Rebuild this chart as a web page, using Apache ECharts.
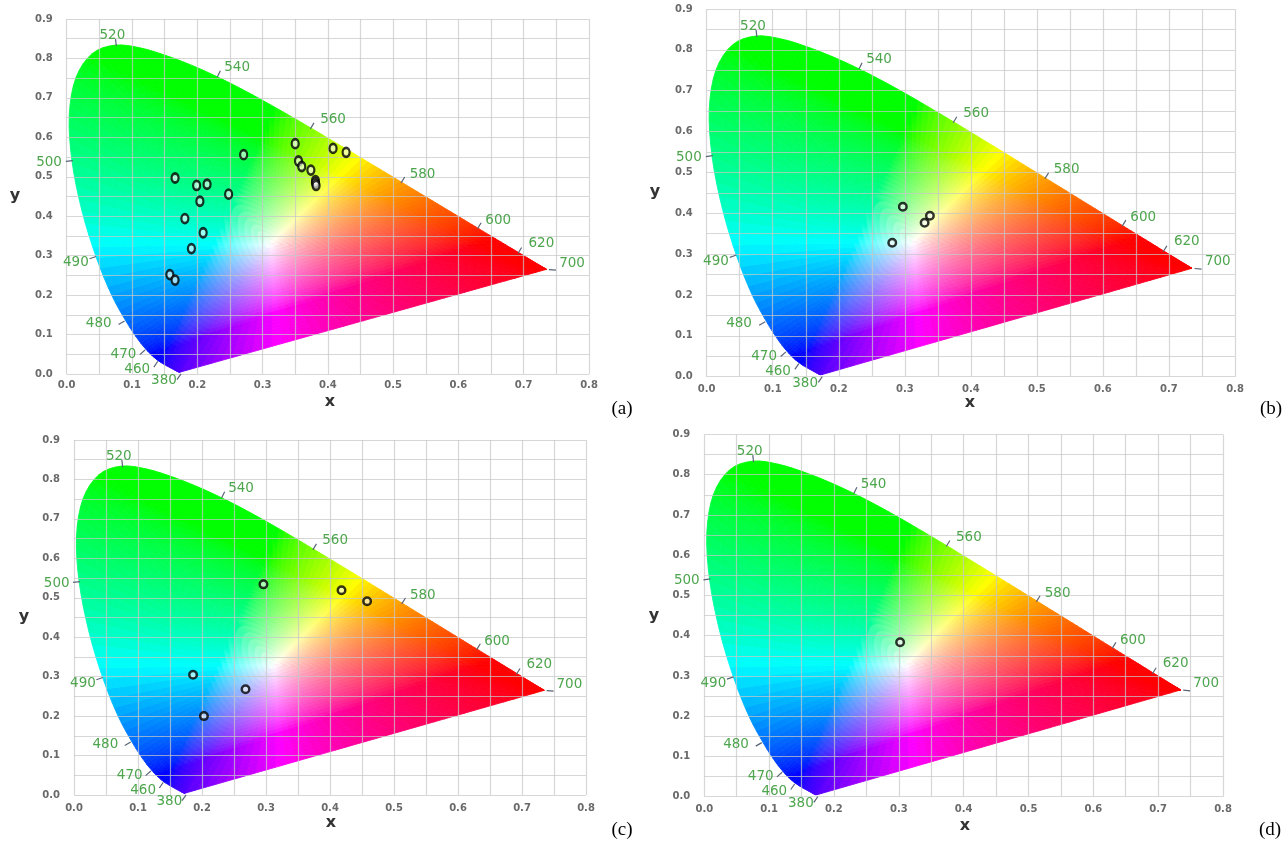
<!DOCTYPE html>
<html><head><meta charset="utf-8">
<script src="https://cdn.jsdelivr.net/npm/echarts/dist/echarts.min.js"></script>
<style>html,body{margin:0;padding:0;background:#fff}#c{width:1288px;height:843px}</style>
</head><body><div id="c"></div>
<script>
// CIE 1931 2° spectral locus (380..700 nm)
const locusWl = [380,385,390,395,400,405,410,415,420,425,430,435,440,445,450,455,460,465,470,475,480,485,490,495,500,505,510,515,520,525,530,535,540,545,550,555,560,565,570,575,580,585,590,595,600,605,610,615,620,625,630,635,640,645,650,655,660,665,670,680,690,700];
const locusX = [0.1741,0.1740,0.1738,0.1736,0.1733,0.1730,0.1726,0.1721,0.1714,0.1703,0.1689,0.1669,0.1644,0.1611,0.1566,0.1510,0.1440,0.1355,0.1241,0.1096,0.0913,0.0687,0.0454,0.0235,0.0082,0.0039,0.0139,0.0389,0.0743,0.1142,0.1547,0.1929,0.2296,0.2658,0.3016,0.3373,0.3731,0.4087,0.4441,0.4788,0.5125,0.5448,0.5752,0.6029,0.6270,0.6482,0.6658,0.6801,0.6915,0.7006,0.7079,0.7140,0.7190,0.7230,0.7260,0.7283,0.7300,0.7311,0.7320,0.7334,0.7344,0.7347];
const locusY = [0.0050,0.0050,0.0049,0.0049,0.0048,0.0048,0.0048,0.0048,0.0051,0.0058,0.0069,0.0086,0.0109,0.0138,0.0177,0.0227,0.0297,0.0399,0.0578,0.0868,0.1327,0.2007,0.2950,0.4127,0.5384,0.6548,0.7502,0.8120,0.8338,0.8262,0.8059,0.7816,0.7543,0.7243,0.6923,0.6589,0.6245,0.5896,0.5547,0.5202,0.4866,0.4544,0.4242,0.3965,0.3725,0.3514,0.3340,0.3197,0.3083,0.2993,0.2920,0.2859,0.2809,0.2770,0.2740,0.2717,0.2700,0.2689,0.2680,0.2666,0.2656,0.2653];
const whitePoint = [0.3127, 0.3290];

// Wavelength annotations
const wlLabels = ['520','540','560','580','600','620','700','500','490','480','470','460','380'];
const wlLabelX = [0.070,0.261,0.408,0.545,0.661,0.727,0.774,-0.027,0.014,0.049,0.087,0.108,0.149];
const wlLabelY = [0.858,0.777,0.644,0.506,0.389,0.331,0.281,0.536,0.282,0.129,0.050,0.012,-0.017];
const wlTickX = [0.0754,0.233,0.376,0.515,0.632,0.694,0.744,0.004,0.040,0.084,0.116,0.1365,0.172];
const wlTickY = [0.840,0.761,0.629,0.492,0.376,0.313,0.264,0.540,0.295,0.130,0.055,0.025,-0.007];

// Measured chromaticity points
const panelA_x = [0.350,0.271,0.355,0.360,0.374,0.381,0.381,0.382,0.408,0.428,0.166,0.199,0.215,0.248,0.204,0.181,0.209,0.191,0.158,0.166];
const panelA_y = [0.584,0.556,0.540,0.526,0.517,0.490,0.484,0.478,0.572,0.562,0.497,0.478,0.481,0.456,0.438,0.394,0.358,0.318,0.252,0.238];
const panelB_x = [0.297,0.338,0.330,0.281];
const panelB_y = [0.416,0.394,0.377,0.328];
const panelC_x = [0.296,0.418,0.458,0.186,0.203,0.268];
const panelC_y = [0.534,0.519,0.491,0.305,0.200,0.268];
const panelD_x = [0.302];
const panelD_y = [0.384];

const xTicks = [0,0.8,0.1];
const yTicks = [0,0.9,0.1];
const panelNames = ['(a)','(b)','(c)','(d)'];

// ---- layout (pixels) ----
const grids = [
  {left:66.7, top:19, width:522.3, height:355},
  {left:706.7, top:9, width:528.3, height:367.7},
  {left:74, top:440, width:512, height:355},
  {left:704.3, top:434.5, width:518.7, height:362.2}
];
const xNamePos = [[330,402],[970,403],[331,823],[965,826]];
const yNamePos = [[15,196],[655,192],[24,617],[654,616]];
const panelLabelPos = [[622,409],[1271,409],[622,830],[1270,830]];

function lin2srgb(c){ return c <= 0.0031308 ? 12.92*c : 1.055*Math.pow(c,1/2.4)-0.055; }
function xyToRgb(x,y){
  y = Math.max(y, 1e-4);
  const X = x/y, Y = 1, Z = (1-x-y)/y;
  let r = 3.2406*X - 1.5372*Y - 0.4986*Z;
  let g = -0.9689*X + 1.8758*Y + 0.0415*Z;
  let b = 0.0557*X - 0.2040*Y + 1.0570*Z;
  r = Math.max(0,r); g = Math.max(0,g); b = Math.max(0,b);
  const m = Math.max(r,g,b) || 1;
  const s = 1.35;
  r = lin2srgb(Math.pow(r/m,s)); g = lin2srgb(Math.pow(g/m,s)); b = lin2srgb(Math.pow(b/m,s));
  return 'rgb(' + Math.round(r*255) + ',' + Math.round(g*255) + ',' + Math.round(b*255) + ')';
}

// boundary: smooth (Catmull-Rom) rendering of the locus + straight purple line
const boundary = [];
const SUB = 4;
const nL = locusX.length;
function lp(i){ i = Math.max(0, Math.min(nL-1, i)); return [locusX[i], locusY[i]]; }
for (let i = 0; i < nL - 1; i++) {
  const p0 = lp(i-1), p1 = lp(i), p2 = lp(i+1), p3 = lp(i+2);
  for (let s = 0; s < SUB; s++) {
    const t = s / SUB, t2 = t*t, t3 = t2*t;
    const f = (a,b,c,d) => 0.5*((2*b) + (-a+c)*t + (2*a-5*b+4*c-d)*t2 + (-a+3*b-3*c+d)*t3);
    boundary.push([f(p0[0],p1[0],p2[0],p3[0]), f(p0[1],p1[1],p2[1],p3[1])]);
  }
}
const last = nL - 1;
const PURPLE = 36;
for (let s = 0; s < PURPLE; s++) {
  const t = s / PURPLE;
  boundary.push([locusX[last] + (locusX[0]-locusX[last])*t, locusY[last] + (locusY[0]-locusY[last])*t]);
}
const fillSegments = [];
for (let i = 0; i < boundary.length; i++) {
  const a = boundary[i], b = boundary[(i+1) % boundary.length];
  fillSegments.push([a[0], a[1], b[0], b[1]]);
}
const RADIAL = 30;

function renderFill(params, api) {
  const x1 = api.value(0), y1 = api.value(1), x2 = api.value(2), y2 = api.value(3);
  const W = whitePoint;
  const children = [];
  for (let k = 0; k < RADIAL; k++) {
    const t0 = k / RADIAL, t1 = (k+1) / RADIAL;
    const pA = [W[0]+(x1-W[0])*t0, W[1]+(y1-W[1])*t0];
    const pB = [W[0]+(x2-W[0])*t0, W[1]+(y2-W[1])*t0];
    const pC = [W[0]+(x2-W[0])*t1, W[1]+(y2-W[1])*t1];
    const pD = [W[0]+(x1-W[0])*t1, W[1]+(y1-W[1])*t1];
    const tm = (t0+t1)/2, mx = (x1+x2)/2, my = (y1+y2)/2;
    const col = xyToRgb(W[0]+(mx-W[0])*tm, W[1]+(my-W[1])*tm);
    children.push({
      type:'polygon',
      shape:{points:[api.coord(pA), api.coord(pB), api.coord(pC), api.coord(pD)]},
      style:{fill:col, stroke:col, lineWidth:0.9},
      silent:true
    });
  }
  return {type:'group', children};
}

function locusIndex(wl){ return locusWl.indexOf(wl); }

function renderLabels(params, api) {
  const i = params.dataIndex;
  const lpix = api.coord([api.value(0), api.value(1)]);
  const tp = api.coord([api.value(2), api.value(3)]);
  const wl = +wlLabels[i];
  const idx = locusIndex(wl);
  const wp = api.coord(whitePoint);
  const P = api.coord([locusX[idx], locusY[idx]]);
  let nx, ny;
  if (idx > 0 && idx < locusX.length - 1) {
    const a = api.coord([locusX[idx-1], locusY[idx-1]]);
    const b = api.coord([locusX[idx+1], locusY[idx+1]]);
    const tx = b[0]-a[0], ty = b[1]-a[1];
    nx = -ty; ny = tx;
    if ((P[0]-wp[0])*nx + (P[1]-wp[1])*ny < 0) { nx = -nx; ny = -ny; }
  } else {
    nx = P[0]-wp[0]; ny = P[1]-wp[1];
  }
  const len = Math.sqrt(nx*nx+ny*ny) || 1;
  nx /= len; ny /= len;
  const h = 3.5;
  return {type:'group', children:[
    {type:'line', shape:{x1:tp[0]-nx*h, y1:tp[1]-ny*h, x2:tp[0]+nx*h, y2:tp[1]+ny*h},
      style:{stroke:'#5a6478', lineWidth:1.2}},
    {type:'text', x:lpix[0], y:lpix[1], style:{text:wlLabels[i], fill:'#4da54d',
      font:'13.5px "DejaVu Sans", sans-serif', textAlign:'center', textVerticalAlign:'middle'}}
  ]};
}

const gridColor = 'rgba(200,200,200,0.72)';
const option = {animation:false, grid:[], xAxis:[], yAxis:[], series:[], graphic:[]};
const pts = [[panelA_x,panelA_y],[panelB_x,panelB_y],[panelC_x,panelC_y],[panelD_x,panelD_y]];
const labelData = wlLabels.map((t,i)=>[wlLabelX[i], wlLabelY[i], wlTickX[i], wlTickY[i]]);

for (let p = 0; p < 4; p++) {
  option.grid.push(Object.assign({show:false, containLabel:false}, grids[p]));
  option.xAxis.push({type:'value', gridIndex:p, min:xTicks[0], max:xTicks[1], interval:xTicks[2], z:3,
    axisLine:{show:false}, axisTick:{show:false},
    axisLabel:{formatter:v=>v.toFixed(1), color:'#6a6a6a', fontSize:10, fontWeight:'bold', fontFamily:'DejaVu Sans', margin:p===0?6:8},
    splitLine:{show:true, lineStyle:{color:gridColor, width:1.2}},
    minorTick:{show:false, splitNumber:2},
    minorSplitLine:{show:true, lineStyle:{color:gridColor, width:1.2}}
  });
  option.yAxis.push({type:'value', gridIndex:p, min:yTicks[0], max:yTicks[1], interval:yTicks[2], z:3,
    axisLine:{show:false}, axisTick:{show:false},
    axisLabel:{formatter:v=>v.toFixed(1), color:'#6a6a6a', fontSize:10, fontWeight:'bold', fontFamily:'DejaVu Sans', margin:14},
    splitLine:{show:true, lineStyle:{color:gridColor, width:1.2}},
    minorTick:{show:false, splitNumber:2},
    minorSplitLine:{show:true, lineStyle:{color:gridColor, width:1.2}}
  });
  option.series.push({type:'custom', xAxisIndex:p, yAxisIndex:p, z:1, silent:true,
    renderItem:renderFill, data:fillSegments, encode:{x:[0,2], y:[1,3]}});
  option.series.push({type:'custom', xAxisIndex:p, yAxisIndex:p, z:5, silent:true, clip:false,
    renderItem:renderLabels, data:labelData, encode:{x:[0,2], y:[1,3]}});
  option.series.push({type:'scatter', xAxisIndex:p, yAxisIndex:p, z:6,
    symbol:'circle', symbolSize: p===0 ? [7,9] : 7.5,
    itemStyle:{color:'rgba(255,255,255,0.75)', borderColor:'#000', borderWidth:2.5},
    data: pts[p][0].map((x,i)=>[x, pts[p][1][i]])});
  option.graphic.push({type:'text', x:xNamePos[p][0], y:xNamePos[p][1], style:{text:'x', fill:'#333',
    font:'bold 16px "DejaVu Sans", sans-serif', textAlign:'center', textVerticalAlign:'middle'}});
  option.graphic.push({type:'text', x:yNamePos[p][0], y:yNamePos[p][1], style:{text:'y', fill:'#333',
    font:'bold 16px "DejaVu Sans", sans-serif', textAlign:'center', textVerticalAlign:'middle'}});
  option.graphic.push({type:'text', x:panelLabelPos[p][0], y:panelLabelPos[p][1], style:{text:panelNames[p], fill:'#000',
    font:'19px "Liberation Serif", serif', textAlign:'center', textVerticalAlign:'middle'}});
}

const chart = echarts.init(document.getElementById('c'), null, {renderer:'canvas'});
chart.setOption(option);
</script></body></html>
